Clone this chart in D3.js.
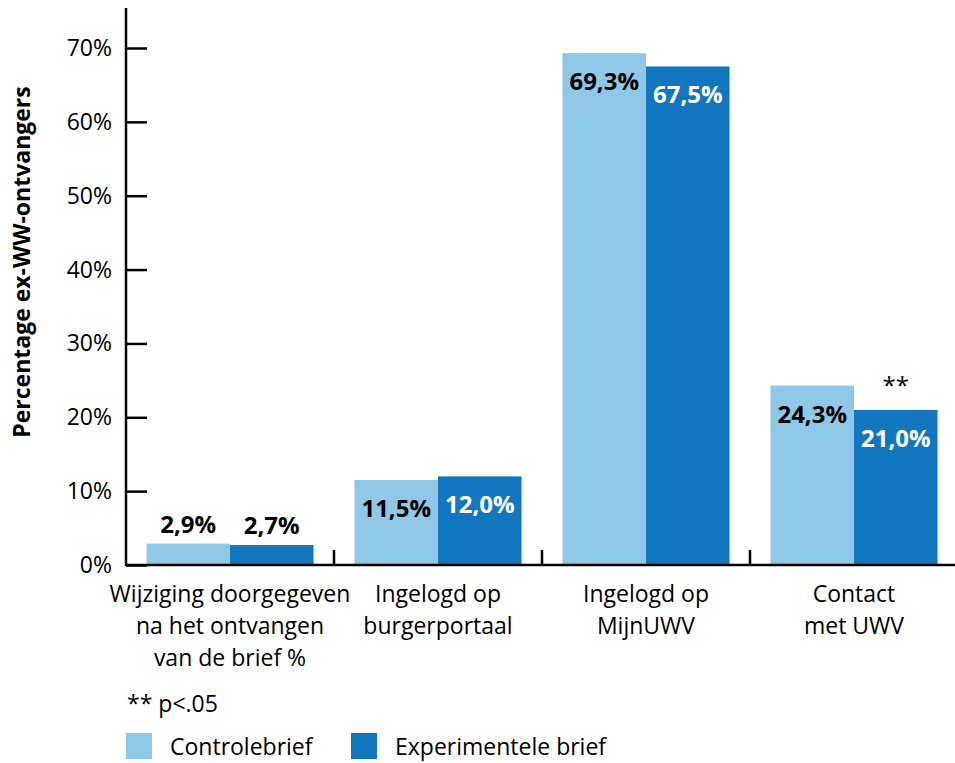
<!DOCTYPE html>
<html><head><meta charset="utf-8">
<script src="https://cdn.jsdelivr.net/npm/d3@7"></script>
<style>
html,body{margin:0;padding:0;background:#fff;}
text{font-family:"Open Sans","Noto Sans",sans-serif;}
</style></head>
<body><svg id="c" width="955" height="763"></svg>
<script>
const categories = [
  ["Wijziging doorgegeven","na het ontvangen","van de brief %"],
  ["Ingelogd op","burgerportaal"],
  ["Ingelogd op","MijnUWV"],
  ["Contact","met UWV"]
];
const seriesNames = ["Controlebrief","Experimentele brief"];
const controle = [2.9, 11.5, 69.3, 24.3];
const experimenteel = [2.7, 12.0, 67.5, 21.0];
const significance = ["", "", "", "**"];
const yTicks = [0,10,20,30,40,50,60,70];
const colors = ["#8fc8e6","#1277be"];
const labelColors = ["#000","#fff"];

const svg = d3.select("#c");
const x0 = 126, yBase = 565;
const x = d3.scaleBand().domain(d3.range(categories.length)).range([x0, 958]).paddingInner(0).paddingOuter(0);
const xs = d3.scaleBand().domain([0,1]).range([0, x.bandwidth()]).paddingOuter(0.245).paddingInner(0);
const y = d3.scaleLinear().domain([0,70]).range([yBase, 48]);

const nl = d3.formatLocale({decimal:",", thousands:".", grouping:[3], currency:["€",""]});
const fmt = v => nl.format(".1f")(v) + "%";

// y axis
const yAxis = d3.axisRight(y).tickValues(yTicks).tickSize(21).tickFormat("");
const gy = svg.append("g").attr("transform",`translate(${x0},0)`).call(yAxis);
gy.select(".domain").remove();
gy.selectAll(".tick line").attr("stroke","#000").attr("stroke-width",2.5);
svg.append("line").attr("x1",x0).attr("x2",x0).attr("y1",8).attr("y2",yBase+1).attr("stroke","#000").attr("stroke-width",2.5);
svg.selectAll(".ylab").data(yTicks).join("text").attr("class","ylab")
  .attr("x",112).attr("y",d=>y(d)+8).attr("text-anchor","end")
  .attr("font-size",23).attr("fill","#000").text(d=>d+"%");

// y title
svg.append("text").attr("transform","translate(30,262) rotate(-90)")
  .attr("text-anchor","middle").attr("font-size",23).attr("font-weight","bold")
  .text("Percentage ex-WW-ontvangers");

// bars
const data = categories.map((c,i)=>({i, vals:[controle[i], experimenteel[i]]}));
const groups = svg.selectAll(".grp").data(data).join("g").attr("transform",d=>`translate(${x(d.i)},0)`);
groups.selectAll("rect").data(d=>d.vals.map((v,k)=>({v,k}))).join("rect")
  .attr("x",d=>xs(d.k)).attr("width",xs.bandwidth())
  .attr("y",d=>y(d.v)).attr("height",d=>yBase-y(d.v))
  .attr("fill",d=>colors[d.k]);
groups.selectAll(".vl").data(d=>d.vals.map((v,k)=>({v,k}))).join("text").attr("class","vl")
  .attr("x",d=>xs(d.k)+xs.bandwidth()/2)
  .attr("y",d=> d.v > 6 ? y(d.v)+37 : y(d.v)-11)
  .attr("text-anchor","middle").attr("font-size",24).attr("font-weight","bold")
  .attr("fill",d=> d.v > 6 ? labelColors[d.k] : "#000")
  .text(d=>fmt(d.v));
groups.append("text")
  .attr("x",xs(1)+xs.bandwidth()/2)
  .attr("y",d=>y(d.vals[1])-16)
  .attr("text-anchor","middle").attr("font-size",24)
  .text(d=>significance[d.i]);

// x axis
svg.append("line").attr("x1",x0).attr("x2",955).attr("y1",yBase).attr("y2",yBase).attr("stroke","#000").attr("stroke-width",2.5);
svg.selectAll(".xt").data(d3.range(1,categories.length)).join("line").attr("class","xt")
  .attr("x1",d=>x(d)).attr("x2",d=>x(d)).attr("y1",yBase).attr("y2",yBase-15)
  .attr("stroke","#000").attr("stroke-width",2.5);
svg.selectAll(".xl").data(categories).join("text").attr("class","xl")
  .attr("x",(d,i)=>x(i)+x.bandwidth()/2).attr("y",602)
  .attr("text-anchor","middle").attr("font-size",23)
  .each(function(d){
    d3.select(this).selectAll("tspan").data(d).join("tspan")
      .attr("x",d3.select(this).attr("x")).attr("dy",(t,j)=>j?32:0).text(t=>t);
  });

// notes and legend
svg.append("text").attr("x",127).attr("y",712).attr("font-size",23).text("** p<.05");
const leg = svg.selectAll(".leg").data(seriesNames).join("g").attr("class","leg")
  .attr("transform",(d,i)=>`translate(${[126,351][i]},733)`);
leg.append("rect").attr("width",26).attr("height",26).attr("fill",(d,i)=>colors[i]);
leg.append("text").attr("x",44).attr("y",22).attr("font-size",23).text(d=>d);
</script></body></html>
